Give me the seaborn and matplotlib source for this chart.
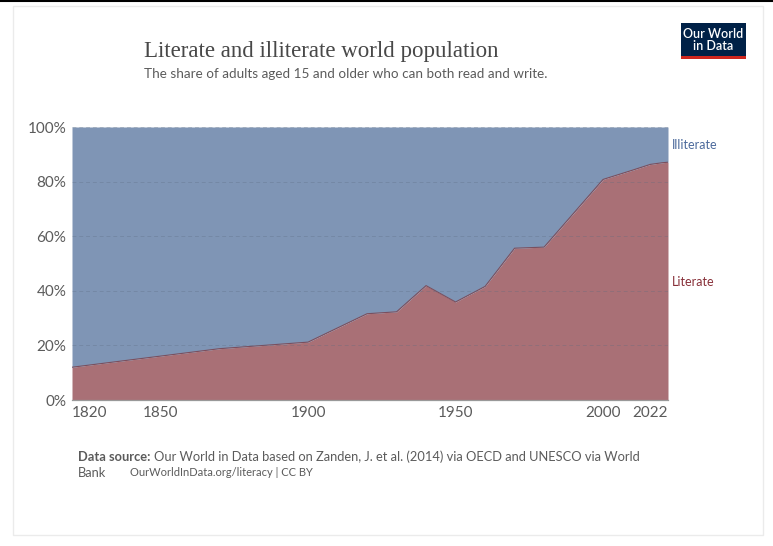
import numpy as np
import pandas as pd
import seaborn as sns
import matplotlib.pyplot as plt
from matplotlib.patches import Rectangle
from matplotlib.lines import Line2D

sns.set_theme(style="white")
plt.rcParams['font.family'] = ['Lato', 'DejaVu Sans']

# values
years = [1820, 1870, 1900, 1920, 1930, 1940, 1950, 1960, 1970, 1980,
         2000, 2010, 2016, 2020, 2022]
literate = [12.0, 18.8, 21.2, 31.6, 32.3, 41.9, 35.9, 41.6, 55.6, 56.0,
            80.8, 84.2, 86.3, 86.9, 87.1]
xticks = [1820, 1850, 1900, 1950, 2000, 2022]
yticks = [0, 20, 40, 60, 80, 100]

df = pd.DataFrame({"year": years, "Literate": literate})
df["Illiterate"] = 100 - df["Literate"]

W, H = 773, 546
fig = plt.figure(figsize=(W / 100, H / 100), dpi=100)

def fx(x):
    return x / W

def fy(y):
    return 1 - y / H

ax = fig.add_axes([fx(72), fy(400), fx(668) - fx(72), fy(127) - fy(400)])

lit_col = "#a97076"
ill_col = "#7f95b5"
ax.fill_between(df["year"], 0, df["Literate"], color=lit_col, lw=0, zorder=1)
ax.fill_between(df["year"], df["Literate"], 100, color=ill_col, lw=0, zorder=1)
sns.lineplot(data=df, x="year", y="Literate", ax=ax, color="#7a4f5e", lw=0.8, zorder=2)

ax.set_xlim(1820, 2022)
ax.set_ylim(0, 100)
ax.set_xticks(xticks)
ax.set_xticks([xticks[0], xticks[-1]], minor=True)
ax.set_yticks(yticks)
ax.set_yticklabels([f"{t}%" for t in yticks])
ax.set_xlabel("")
ax.set_ylabel("")
labs = ax.get_xticklabels()
labs[0].set_ha("left")
labs[-1].set_ha("right")
for t in yticks[1:]:
    ax.axhline(t, color="#5a6a80", lw=0.7, ls=(0, (4, 3)), alpha=0.3, zorder=3)
for s in ["top", "right", "left"]:
    ax.spines[s].set_visible(False)
ax.spines["bottom"].set_color("#999999")
ax.spines["bottom"].set_linewidth(0.9)
ax.tick_params(axis="x", which="major", bottom=True, length=0,
               labelsize=11, labelcolor="#5b5b5b", pad=4)
ax.tick_params(axis="x", which="minor", bottom=True, length=4, width=0.8,
               color="#999999")
ax.tick_params(axis="y", left=False, length=0, labelsize=11,
               labelcolor="#5b5b5b", pad=4)

# series labels
fig.text(fx(672), fy(145), "Illiterate", color="#4c6a9c", fontsize=9, va="center")
fig.text(fx(672), fy(282), "Literate", color="#883039", fontsize=9, va="center")

# header
fig.text(fx(144), fy(51), "Literate and illiterate world population",
         family=["Liberation Serif", "DejaVu Serif"], fontsize=16.5, color="#484848",
         va="center")
fig.text(fx(144), fy(74), "The share of adults aged 15 and older who can both read and write.",
         fontsize=9.7, color="#5b5b5b", va="center")

# footer
t0 = fig.text(fx(78), fy(457), "Data source:", fontsize=9.3, color="#5b5b5b",
              fontweight="bold", va="center")
r = fig.canvas.get_renderer()
x_end = t0.get_window_extent(r).x1
fig.text(x_end / W + 3 / W, fy(457),
         "Our World in Data based on Zanden, J. et al. (2014) via OECD and UNESCO via World",
         fontsize=9.3, color="#5b5b5b", va="center")
fig.text(fx(78), fy(473), "Bank", fontsize=9.3, color="#5b5b5b", va="center")
fig.text(fx(130), fy(473), "OurWorldInData.org/literacy | CC BY", fontsize=8,
         color="#5b5b5b", va="center")

# logo
fig.patches.append(Rectangle((fx(681), fy(59)), fx(746) - fx(681), fy(23) - fy(59),
                             transform=fig.transFigure, facecolor="#002147",
                             edgecolor="none"))
fig.patches.append(Rectangle((fx(681), fy(59)), fx(746) - fx(681), 3 / H,
                             transform=fig.transFigure, facecolor="#ce261e",
                             edgecolor="none"))
fig.text(fx(713.5), fy(40), "Our World\nin Data", color="white", fontsize=9,
         fontweight="semibold", ha="center", va="center", linespacing=0.95)

# frame
fig.patches.append(Rectangle((fx(13), fy(535)), fx(763) - fx(13), fy(6) - fy(535),
                             transform=fig.transFigure, facecolor="none",
                             edgecolor="#ebebeb", lw=1))
fig.lines.append(Line2D([0, 1], [1 - 0.8 / H] * 2, transform=fig.transFigure,
                        color="black", lw=1.5))

fig.savefig("out.png", dpi=100)
